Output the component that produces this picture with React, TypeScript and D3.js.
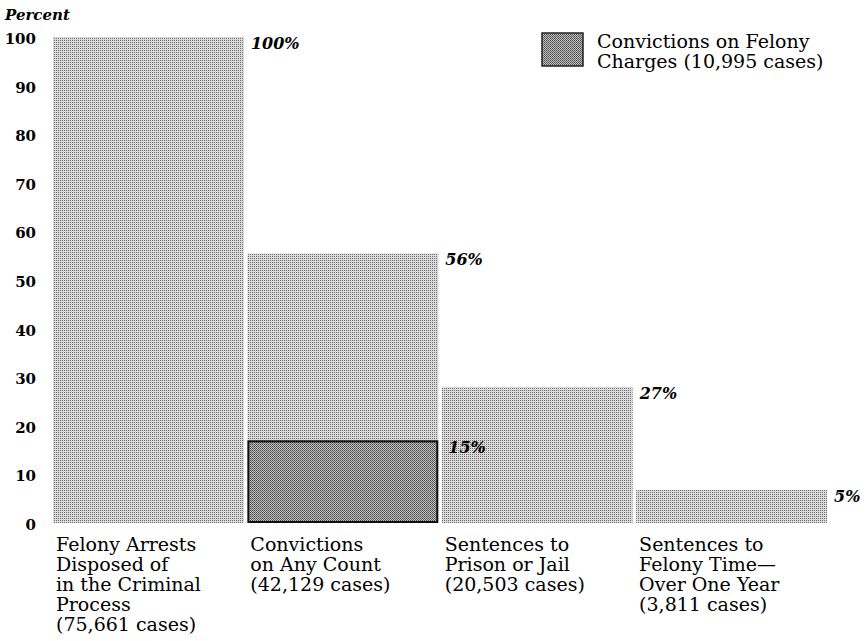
import React from "react";
import * as d3 from "d3";

const categoryLines: string[][] = [
  ["Felony Arrests", "Disposed of", "in the Criminal", "Process", "(75,661 cases)"],
  ["Convictions", "on Any Count", "(42,129 cases)"],
  ["Sentences to", "Prison or Jail", "(20,503 cases)"],
  ["Sentences to", "Felony Time\u2014", "Over One Year", "(3,811 cases)"],
];
const categoryKeys = ["arrests", "convictions", "prison", "felonyTime"];
const barValues = [100, 55.5, 28, 6.8];
const barLabels = ["100%", "56%", "27%", "5%"];
const felonyValue = 16.8;
const felonyLabel = "15%";
const felonyIndex = 1;
const yTicks = [0, 10, 20, 30, 40, 50, 60, 70, 80, 90, 100];
const legendLines = ["Convictions on Felony", "Charges (10,995 cases)"];
const yTitle = "Percent";

const W = 866;
const H = 641;
const serif = "'DejaVu Serif', serif";

export default function App() {
  const x = d3.scaleBand<string>().domain(categoryKeys).range([53, 827]).paddingInner(0.018);
  const y = d3.scaleLinear().domain([0, 100]).range([523, 37]);
  const bw = x.bandwidth();

  return (
    <svg width={W} height={H} style={{ position: "absolute", left: 0, top: 0, background: "#fff" }}>
      <defs>
        <pattern id="light" width="2" height="2" patternUnits="userSpaceOnUse">
          <rect width="2" height="2" fill="#dadada" />
          <rect width="1" height="1" fill="#707070" />
        </pattern>
        <pattern id="dark" width="2" height="2" patternUnits="userSpaceOnUse">
          <rect width="2" height="2" fill="#bdbdbd" />
          <rect width="1" height="1" fill="#4a4a4a" />
          <rect x="1" y="1" width="1" height="1" fill="#6a6a6a" />
        </pattern>
      </defs>

      <text x={5} y={20} fontFamily={serif} fontStyle="italic" fontWeight="bold" fontSize={15}>
        {yTitle}
      </text>

      {yTicks.map((t) => (
        <text key={t} x={36} y={y(t) + 2} dominantBaseline="central" textAnchor="end"
          fontFamily={serif} fontWeight="bold" fontSize={15}>
          {t}
        </text>
      ))}

      {categoryKeys.map((k, i) => (
        <rect key={k} x={x(k)} y={y(barValues[i])} width={bw} height={y(0) - y(barValues[i])} fill="url(#light)" />
      ))}

      <rect
        x={(x(categoryKeys[felonyIndex]) as number) + 1}
        y={y(felonyValue)}
        width={bw - 2}
        height={y(0) - y(felonyValue) - 1}
        fill="url(#dark)"
        stroke="#111"
        strokeWidth={2}
      />

      {categoryKeys.map((k, i) => (
        <text key={k + "l"} x={(x(k) as number) + bw + 7} y={y(barValues[i]) + 12}
          fontFamily={serif} fontStyle="italic" fontWeight="bold" fontSize={16}>
          {barLabels[i]}
        </text>
      ))}
      <text x={(x(categoryKeys[felonyIndex]) as number) + bw + 10} y={y(felonyValue) + 12}
        fontFamily={serif} fontStyle="italic" fontWeight="bold" fontSize={16}>
        {felonyLabel}
      </text>

      {categoryKeys.map((k, i) => (
        <text key={k + "c"} x={(x(k) as number) + 3} fontFamily={serif} fontSize={19}>
          {categoryLines[i].map((line, j) => (
            <tspan key={j} x={(x(k) as number) + 3} y={551 + j * 20}>
              {line}
            </tspan>
          ))}
        </text>
      ))}

      <rect x={542} y={33} width={41} height={33} fill="url(#dark)" stroke="#222" strokeWidth={1.5} />
      {legendLines.map((l, j) => (
        <text key={l} x={597} y={48 + j * 20} fontFamily={serif} fontSize={19}>
          {l}
        </text>
      ))}
    </svg>
  );
}
